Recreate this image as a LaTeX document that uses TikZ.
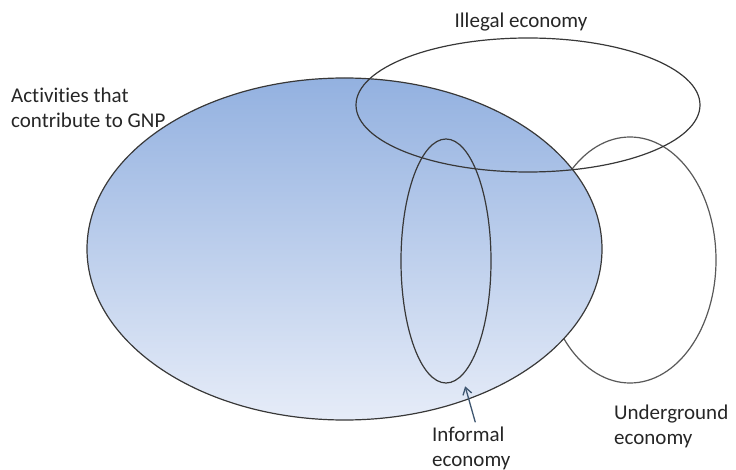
\documentclass[tikz,border=0pt]{standalone}
\usepackage{fontspec}
\setmainfont{Carlito}[Ligatures=NoCommon]
\usetikzlibrary{shapes.geometric,positioning,arrows.meta}
\definecolor{gnptop}{HTML}{93B1E0}
\definecolor{gnpbot}{HTML}{E6ECF8}
\definecolor{arrowblue}{HTML}{3E5670}

\begin{document}
\begin{tikzpicture}[x=1pt, y=-1pt,
    set/.style={draw=black!78, line width=1.2pt, ellipse, inner sep=0pt},
    lbl/.style={font=\fontsize{21}{25}\selectfont, align=left, text=black!85, inner sep=2pt},
    arr/.style={-{Straight Barb[length=7pt,width=9pt]}, draw=arrowblue, line width=1.3pt}
]
\useasboundingbox (0,0) rectangle (736,470);

% sets
\node[set, fill=white, draw=black!65, minimum width=172pt, minimum height=246pt] (under) at (630,260) {};
\node[set, top color=gnptop, bottom color=gnpbot, minimum width=515pt, minimum height=342pt] (gnp) at (344.5,249) {};
\node[set, minimum width=344pt, minimum height=134pt] (illegal) at (528,105) {};
\node[set, minimum width=90pt, minimum height=244pt] (informal) at (446,261) {};

% labels
\node[lbl] (illegallbl) at (521,22) {Illegal economy};
\node[lbl, anchor=west] (gnplbl) at (9,108) {Activities that\\contribute to GNP};
\node[lbl, anchor=west] (informallbl) at (430,448) {Informal\\economy};
\node[lbl, anchor=west] (underlbl) at (612,426) {Underground\\economy};

\draw[arr, shorten >=11pt] ([xshift=4pt,yshift=2pt]informallbl.north) -- (informal.-82);
\end{tikzpicture}
\end{document}
